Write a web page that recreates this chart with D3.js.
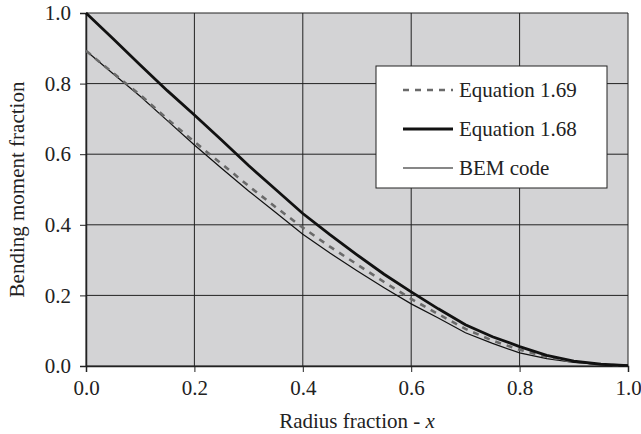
<!DOCTYPE html>
<html>
<head>
<meta charset="utf-8">
<script src="https://cdn.jsdelivr.net/npm/d3@7"></script>
<style>
  body { margin: 0; background: #fff; }
</style>
</head>
<body>
<div id="chart"></div>
<script>
// radius fraction positions
const radius = [0, 0.05, 0.1, 0.15, 0.2, 0.25, 0.3, 0.35, 0.4, 0.45, 0.5,
  0.55, 0.6, 0.65, 0.7, 0.75, 0.8, 0.85, 0.9, 0.95, 1.0];

const eq169 = [0.893, 0.830, 0.768, 0.700, 0.635, 0.573, 0.510, 0.450, 0.392, 0.338, 0.288,
  0.238, 0.190, 0.147, 0.105, 0.072, 0.046, 0.026, 0.012, 0.004, 0.001];
const eq168 = [1.0, 0.927, 0.853, 0.780, 0.711, 0.640, 0.568, 0.500, 0.432, 0.372, 0.315,
  0.260, 0.210, 0.162, 0.117, 0.083, 0.055, 0.030, 0.014, 0.005, 0.001];
const bem = [0.893, 0.828, 0.764, 0.695, 0.626, 0.560, 0.496, 0.435, 0.373, 0.320, 0.270,
  0.222, 0.176, 0.136, 0.094, 0.064, 0.037, 0.021, 0.010, 0.005, 0.003];

const xTicks = [0, 0.2, 0.4, 0.6, 0.8, 1.0];
const yTicks = [0, 0.2, 0.4, 0.6, 0.8, 1.0];

const seriesNames = ["Equation 1.69", "Equation 1.68", "BEM code"];

const FONT = "Liberation Serif";
const FS = "21px";

const W = 641, H = 434;
const margin = {top: 13, right: 13, bottom: 68, left: 86};
const width = W - margin.left - margin.right;
const height = H - margin.top - margin.bottom;

const svg = d3.select("#chart").append("svg")
  .attr("width", W)
  .attr("height", H)
  .attr("font-family", FONT);

const g = svg.append("g")
  .attr("transform", `translate(${margin.left},${margin.top})`);

const x = d3.scaleLinear().domain([0, 1]).range([0, width]);
const y = d3.scaleLinear().domain([0, 1]).range([height, 0]);

g.append("rect")
  .attr("width", width)
  .attr("height", height)
  .attr("fill", "#d3d3d5");

// grid
g.append("g")
  .selectAll("line")
  .data(xTicks)
  .join("line")
  .attr("x1", d => x(d)).attr("x2", d => x(d))
  .attr("y1", 0).attr("y2", height)
  .attr("stroke", "#222").attr("stroke-width", 1);

g.append("g")
  .selectAll("line")
  .data(yTicks)
  .join("line")
  .attr("x1", 0).attr("x2", width)
  .attr("y1", d => y(d)).attr("y2", d => y(d))
  .attr("stroke", "#222").attr("stroke-width", 1);

const xAxis = d3.axisBottom(x).tickValues(xTicks).tickFormat(d3.format(".1f")).tickSize(6).tickPadding(8);
const yAxis = d3.axisLeft(y).tickValues(yTicks).tickFormat(d3.format(".1f")).tickSize(6).tickPadding(9);

const xg = g.append("g")
  .attr("transform", `translate(0,${height})`)
  .call(xAxis);
const yg = g.append("g").call(yAxis);

[xg, yg].forEach(a => {
  a.attr("font-family", FONT).attr("font-size", 21);
  a.select(".domain").attr("stroke", "#222").attr("stroke-width", 1.5);
  a.selectAll(".tick line").attr("stroke", "#222");
  a.selectAll(".tick text")
    .style("font-family", FONT)
    .style("font-size", FS)
    .attr("fill", "#222");
});

// lines
const line = vals => d3.line()
  .x((d, i) => x(radius[i]))
  .y(d => y(d))(vals);

g.append("path")
  .attr("d", line(bem))
  .attr("fill", "none")
  .attr("stroke", "#111")
  .attr("stroke-width", 1.2);

g.append("path")
  .attr("d", line(eq169))
  .attr("fill", "none")
  .attr("stroke", "#6a6a6a")
  .attr("stroke-width", 2.6)
  .attr("stroke-dasharray", "6,6");

g.append("path")
  .attr("d", line(eq168))
  .attr("fill", "none")
  .attr("stroke", "#111")
  .attr("stroke-width", 2.8);

// legend
const legend = svg.append("g").attr("transform", "translate(376,66)");
legend.append("rect")
  .attr("width", 231)
  .attr("height", 122)
  .attr("fill", "#fff")
  .attr("stroke", "#222")
  .attr("stroke-width", 1);

const styles = [
  {stroke: "#6a6a6a", w: 2.6, dash: "6,6"},
  {stroke: "#111", w: 2.8, dash: null},
  {stroke: "#111", w: 1.2, dash: null}
];

seriesNames.forEach((name, i) => {
  const yy = 24 + i * 39;
  legend.append("line")
    .attr("x1", 27).attr("x2", 77)
    .attr("y1", yy).attr("y2", yy)
    .attr("stroke", styles[i].stroke)
    .attr("stroke-width", styles[i].w)
    .attr("stroke-dasharray", styles[i].dash);
  legend.append("text")
    .attr("x", 83)
    .attr("y", yy)
    .attr("dy", "0.35em")
    .style("font-family", FONT)
    .style("font-size", FS)
    .attr("fill", "#222")
    .text(name);
});

// axis titles
const xt = svg.append("text")
  .attr("x", margin.left + width / 2)
  .attr("y", 428)
  .attr("text-anchor", "middle")
  .style("font-family", FONT)
  .style("font-size", FS)
  .attr("fill", "#222");
xt.append("tspan").text("Radius fraction - ");
xt.append("tspan").attr("font-style", "italic").text("x");

svg.append("text")
  .attr("transform", `translate(24,${margin.top + height / 2}) rotate(-90)`)
  .attr("text-anchor", "middle")
  .style("font-family", FONT)
  .style("font-size", FS)
  .attr("fill", "#222")
  .text("Bending moment fraction");
</script>
</body>
</html>
